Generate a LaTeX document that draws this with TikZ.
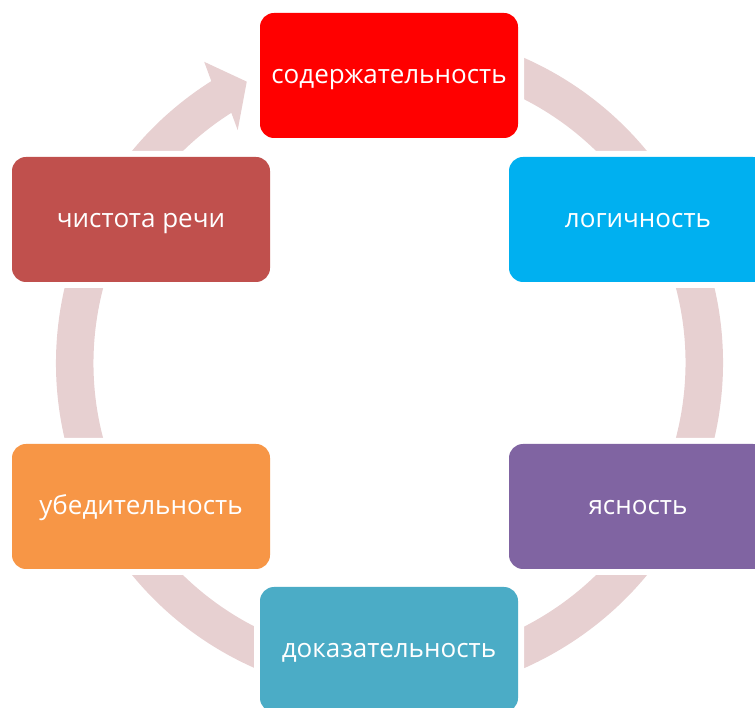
\documentclass[tikz,border=0pt]{standalone}
\usepackage{fontspec}
\setmainfont{Open Sans}
\usetikzlibrary{calc}

\definecolor{ringpink}{HTML}{E7D0D1}
\definecolor{boxred}{HTML}{FF0000}
\definecolor{boxcyan}{HTML}{00B0F0}
\definecolor{boxpurple}{HTML}{8064A2}
\definecolor{boxteal}{HTML}{4BACC6}
\definecolor{boxorange}{HTML}{F79646}
\definecolor{boxbrick}{HTML}{C0504D}

\begin{document}
\begin{tikzpicture}[x=1pt,y=1pt,
    stage/.style={rounded corners=14pt, minimum width=258pt, minimum height=125pt,
      inner sep=0pt, text height=17pt, text depth=0pt, text=white,
      font=\fontsize{26}{31}\selectfont,
      preaction={draw=white, line width=12pt}}]
			\useasboundingbox (0,0) rectangle (755,707);
			\coordinate (ctr) at (389.5,344);
			
			% Cycle ring with arrow head
			\fill[ringpink] ([shift={(ctr)}]122.3:333.5)
			  arc[start angle=122.3, end angle=442, radius=333.5]
			  -- ([shift={(ctr)}]442:296)
			  arc[start angle=442, end angle=122.3, radius=296]
			  -- ([shift={(ctr)}]123.1:278)
			  -- ([shift={(ctr)}]116.9:315.5)
			  -- ([shift={(ctr)}]121.6:353.6) -- cycle;
			
			% Stages
			\node[stage, fill=boxred] (content) at (389,631.5) {содержательность};
			\node[stage, fill=boxcyan] (logic) at (638,487.5) {логичность};
			\node[stage, fill=boxpurple] (clarity) at (638,200.5) {ясность};
			\node[stage, fill=boxteal] (proof) at (389,57.5) {доказательность};
			\node[stage, fill=boxorange] (persuasion) at (141,200.5) {убедительность};
			\node[stage, fill=boxbrick] (purity) at (141,487.5) {чистота речи};
		\end{tikzpicture}
\end{document}
